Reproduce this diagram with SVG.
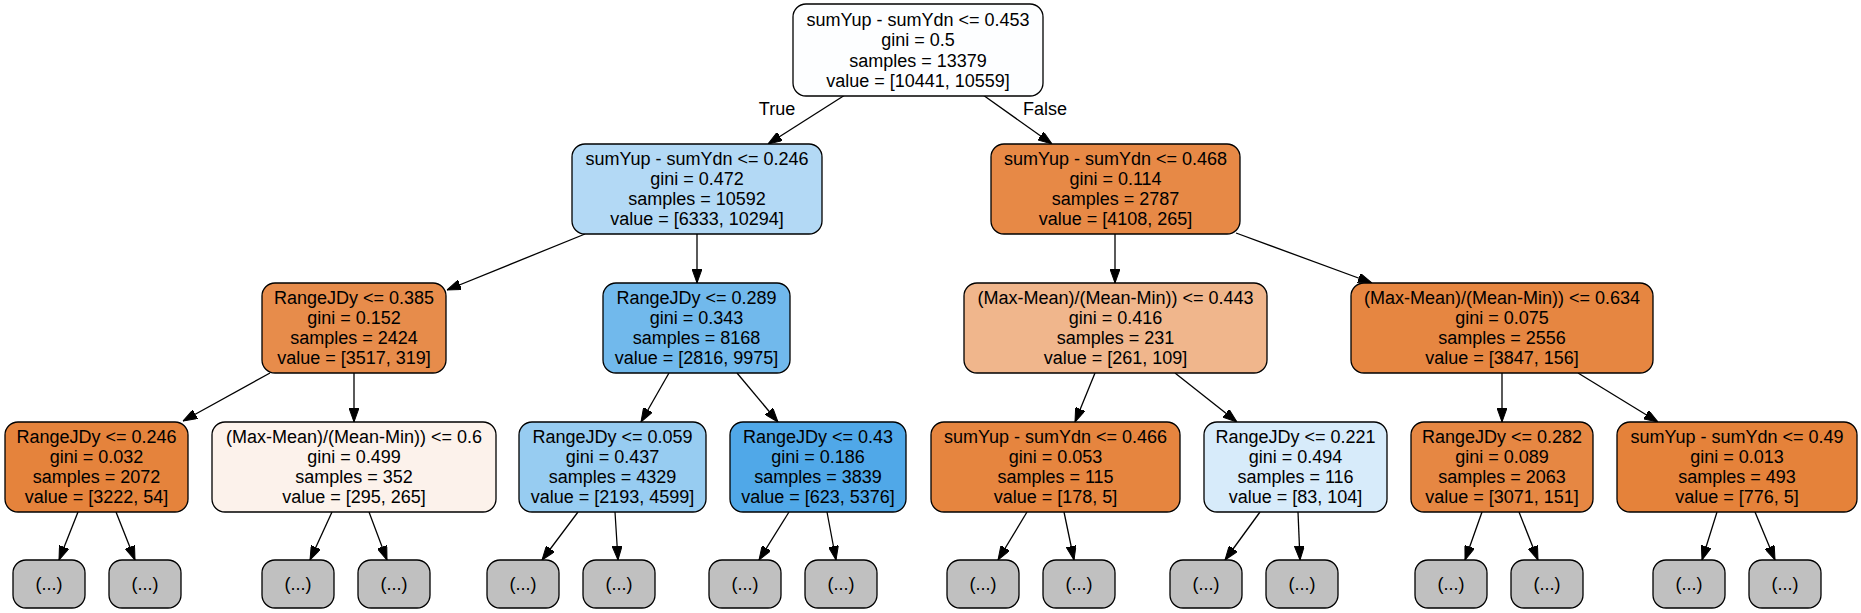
<svg xmlns="http://www.w3.org/2000/svg" width="1861" height="613" viewBox="0 0 1861 613">
<style>
rect{stroke:#000;stroke-width:1.3}
text{font-family:"Liberation Sans",Arial,sans-serif;font-size:18px;fill:#000;text-anchor:middle}
.leaf rect{fill:#c0c0c0}
.e line{stroke:#000;stroke-width:1.3;marker-end:url(#ah)}
</style>
<defs>
<marker id="ah" markerUnits="userSpaceOnUse" markerWidth="14" markerHeight="10" viewBox="0 0 14 10" refX="14" refY="5" orient="auto">
<path d="M0,0 L14,5 L0,10 z" fill="#000" stroke="#000" stroke-width="1"/>
</marker>
</defs>
<rect x="0" y="0" width="1861" height="613" fill="#fff" style="stroke:none"/>
<g id="edges" class="e">
<line x1="845" y1="95" x2="768" y2="144"/>
<line x1="983" y1="95" x2="1052" y2="144"/>
<line x1="585" y1="234" x2="447" y2="290"/>
<line x1="697" y1="234" x2="697" y2="283"/>
<line x1="1115" y1="234" x2="1115" y2="283"/>
<line x1="1236" y1="233" x2="1372" y2="283"/>
<line x1="270" y1="373" x2="183" y2="421"/>
<line x1="354" y1="373" x2="354" y2="422"/>
<line x1="669" y1="373" x2="641" y2="422"/>
<line x1="737" y1="373" x2="778" y2="422"/>
<line x1="1095" y1="373" x2="1075" y2="422"/>
<line x1="1175" y1="373" x2="1237" y2="422"/>
<line x1="1502" y1="373" x2="1502" y2="422"/>
<line x1="1578" y1="373" x2="1658" y2="422"/>
<line x1="78" y1="512" x2="59" y2="560"/>
<line x1="116" y1="512" x2="135" y2="560"/>
<line x1="332" y1="512" x2="310" y2="560"/>
<line x1="369" y1="512" x2="387" y2="560"/>
<line x1="578" y1="512" x2="542" y2="560"/>
<line x1="615" y1="512" x2="618" y2="560"/>
<line x1="789" y1="512" x2="759" y2="560"/>
<line x1="827" y1="512" x2="836" y2="560"/>
<line x1="1027" y1="512" x2="998" y2="560"/>
<line x1="1064" y1="512" x2="1074" y2="560"/>
<line x1="1260" y1="512" x2="1225" y2="560"/>
<line x1="1298" y1="512" x2="1300" y2="560"/>
<line x1="1482" y1="512" x2="1465" y2="560"/>
<line x1="1519" y1="512" x2="1538" y2="560"/>
<line x1="1717" y1="512" x2="1702" y2="560"/>
<line x1="1755" y1="512" x2="1775" y2="560"/>
<text x="777" y="115">True</text>
<text x="1045" y="115">False</text>
</g>
<g id="n0"><rect x="793" y="4" width="250" height="92" rx="13" fill="#fdfeff"/>
<text x="918" y="26">sumYup - sumYdn &lt;= 0.453<tspan x="918" dy="20.4">gini = 0.5</tspan><tspan x="918" dy="20.4">samples = 13379</tspan><tspan x="918" dy="20.4">value = [10441, 10559]</tspan></text></g>
<g id="n1"><rect x="572" y="144" width="250" height="90" rx="13" fill="#b3d9f5"/>
<text x="697" y="164.5">sumYup - sumYdn &lt;= 0.246<tspan x="697" dy="20">gini = 0.472</tspan><tspan x="697" dy="20">samples = 10592</tspan><tspan x="697" dy="20">value = [6333, 10294]</tspan></text></g>
<g id="n2"><rect x="991" y="144" width="249" height="90" rx="13" fill="#e78946"/>
<text x="1115.5" y="164.5">sumYup - sumYdn &lt;= 0.468<tspan x="1115.5" dy="20">gini = 0.114</tspan><tspan x="1115.5" dy="20">samples = 2787</tspan><tspan x="1115.5" dy="20">value = [4108, 265]</tspan></text></g>
<g id="n3"><rect x="262" y="283" width="184" height="90" rx="13" fill="#e78c4b"/>
<text x="354" y="303.5">RangeJDy &lt;= 0.385<tspan x="354" dy="20">gini = 0.152</tspan><tspan x="354" dy="20">samples = 2424</tspan><tspan x="354" dy="20">value = [3517, 319]</tspan></text></g>
<g id="n4"><rect x="603" y="283" width="187" height="90" rx="13" fill="#71b9ec"/>
<text x="696.5" y="303.5">RangeJDy &lt;= 0.289<tspan x="696.5" dy="20">gini = 0.343</tspan><tspan x="696.5" dy="20">samples = 8168</tspan><tspan x="696.5" dy="20">value = [2816, 9975]</tspan></text></g>
<g id="n5"><rect x="964" y="283" width="303" height="90" rx="13" fill="#f0b68c"/>
<text x="1115.5" y="303.5">(Max-Mean)/(Mean-Min)) &lt;= 0.443<tspan x="1115.5" dy="20">gini = 0.416</tspan><tspan x="1115.5" dy="20">samples = 231</tspan><tspan x="1115.5" dy="20">value = [261, 109]</tspan></text></g>
<g id="n6"><rect x="1351" y="283" width="302" height="90" rx="13" fill="#e68641"/>
<text x="1502" y="303.5">(Max-Mean)/(Mean-Min)) &lt;= 0.634<tspan x="1502" dy="20">gini = 0.075</tspan><tspan x="1502" dy="20">samples = 2556</tspan><tspan x="1502" dy="20">value = [3847, 156]</tspan></text></g>
<g id="n7"><rect x="5" y="422" width="183" height="90" rx="13" fill="#e5833c"/>
<text x="96.5" y="442.5">RangeJDy &lt;= 0.246<tspan x="96.5" dy="20">gini = 0.032</tspan><tspan x="96.5" dy="20">samples = 2072</tspan><tspan x="96.5" dy="20">value = [3222, 54]</tspan></text></g>
<g id="n8"><rect x="212" y="422" width="284" height="90" rx="13" fill="#fcf2eb"/>
<text x="354" y="442.5">(Max-Mean)/(Mean-Min)) &lt;= 0.6<tspan x="354" dy="20">gini = 0.499</tspan><tspan x="354" dy="20">samples = 352</tspan><tspan x="354" dy="20">value = [295, 265]</tspan></text></g>
<g id="n9"><rect x="519" y="422" width="187" height="90" rx="13" fill="#97ccf1"/>
<text x="612.5" y="442.5">RangeJDy &lt;= 0.059<tspan x="612.5" dy="20">gini = 0.437</tspan><tspan x="612.5" dy="20">samples = 4329</tspan><tspan x="612.5" dy="20">value = [2193, 4599]</tspan></text></g>
<g id="n10"><rect x="730" y="422" width="176" height="90" rx="13" fill="#50a8e8"/>
<text x="818" y="442.5">RangeJDy &lt;= 0.43<tspan x="818" dy="20">gini = 0.186</tspan><tspan x="818" dy="20">samples = 3839</tspan><tspan x="818" dy="20">value = [623, 5376]</tspan></text></g>
<g id="n11"><rect x="931" y="422" width="249" height="90" rx="13" fill="#e6853f"/>
<text x="1055.5" y="442.5">sumYup - sumYdn &lt;= 0.466<tspan x="1055.5" dy="20">gini = 0.053</tspan><tspan x="1055.5" dy="20">samples = 115</tspan><tspan x="1055.5" dy="20">value = [178, 5]</tspan></text></g>
<g id="n12"><rect x="1204" y="422" width="183" height="90" rx="13" fill="#d7ebfa"/>
<text x="1295.5" y="442.5">RangeJDy &lt;= 0.221<tspan x="1295.5" dy="20">gini = 0.494</tspan><tspan x="1295.5" dy="20">samples = 116</tspan><tspan x="1295.5" dy="20">value = [83, 104]</tspan></text></g>
<g id="n13"><rect x="1411" y="422" width="182" height="90" rx="13" fill="#e68743"/>
<text x="1502" y="442.5">RangeJDy &lt;= 0.282<tspan x="1502" dy="20">gini = 0.089</tspan><tspan x="1502" dy="20">samples = 2063</tspan><tspan x="1502" dy="20">value = [3071, 151]</tspan></text></g>
<g id="n14"><rect x="1617" y="422" width="240" height="90" rx="13" fill="#e5823a"/>
<text x="1737" y="442.5">sumYup - sumYdn &lt;= 0.49<tspan x="1737" dy="20">gini = 0.013</tspan><tspan x="1737" dy="20">samples = 493</tspan><tspan x="1737" dy="20">value = [776, 5]</tspan></text></g>
<g id="l1" class="leaf"><rect x="13" y="560" width="72" height="48" rx="13"/><text x="49" y="590">(...)</text></g>
<g id="l2" class="leaf"><rect x="109" y="560" width="72" height="48" rx="13"/><text x="145" y="590">(...)</text></g>
<g id="l3" class="leaf"><rect x="262" y="560" width="72" height="48" rx="13"/><text x="298" y="590">(...)</text></g>
<g id="l4" class="leaf"><rect x="358" y="560" width="72" height="48" rx="13"/><text x="394" y="590">(...)</text></g>
<g id="l5" class="leaf"><rect x="487" y="560" width="72" height="48" rx="13"/><text x="523" y="590">(...)</text></g>
<g id="l6" class="leaf"><rect x="583" y="560" width="72" height="48" rx="13"/><text x="619" y="590">(...)</text></g>
<g id="l7" class="leaf"><rect x="709" y="560" width="72" height="48" rx="13"/><text x="745" y="590">(...)</text></g>
<g id="l8" class="leaf"><rect x="805" y="560" width="72" height="48" rx="13"/><text x="841" y="590">(...)</text></g>
<g id="l9" class="leaf"><rect x="947" y="560" width="72" height="48" rx="13"/><text x="983" y="590">(...)</text></g>
<g id="l10" class="leaf"><rect x="1043" y="560" width="72" height="48" rx="13"/><text x="1079" y="590">(...)</text></g>
<g id="l11" class="leaf"><rect x="1170" y="560" width="72" height="48" rx="13"/><text x="1206" y="590">(...)</text></g>
<g id="l12" class="leaf"><rect x="1266" y="560" width="72" height="48" rx="13"/><text x="1302" y="590">(...)</text></g>
<g id="l13" class="leaf"><rect x="1415" y="560" width="72" height="48" rx="13"/><text x="1451" y="590">(...)</text></g>
<g id="l14" class="leaf"><rect x="1511" y="560" width="72" height="48" rx="13"/><text x="1547" y="590">(...)</text></g>
<g id="l15" class="leaf"><rect x="1653" y="560" width="72" height="48" rx="13"/><text x="1689" y="590">(...)</text></g>
<g id="l16" class="leaf"><rect x="1749" y="560" width="72" height="48" rx="13"/><text x="1785" y="590">(...)</text></g>
</svg>
